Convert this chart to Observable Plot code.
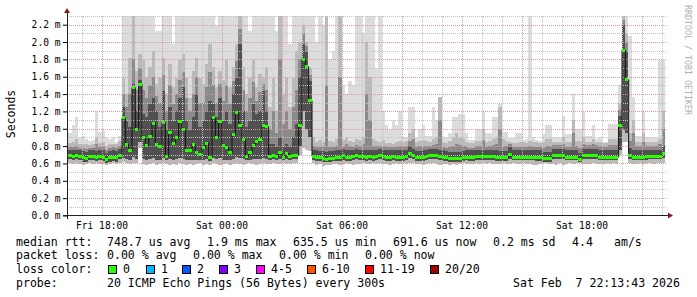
<!DOCTYPE html>
<html><head><meta charset="utf-8">
<script src="https://cdn.jsdelivr.net/npm/d3@7"></script>
<script src="https://cdn.jsdelivr.net/npm/@observablehq/plot@0.6"></script>
<style>
html,body{margin:0;padding:0;background:#fff;}
#wrap{width:697px;height:297px;overflow:hidden;background:#fff;}
#wrap svg{display:block;}
#wrap svg line, #wrap svg rect{shape-rendering:crispEdges;}
</style></head><body><div id="wrap"></div>
<script>
// RTT per 10-minute step (microseconds), starting Fri 16:20 UTC
const med = [
700,690,700,690,670,660,690,690,680,690,
680,650,670,680,670,700,1130,820,750,1480,
1000,1520,900,810,920,1070,830,800,1080,690,
960,840,900,1090,1000,760,760,830,730,710,
790,840,680,1130,910,1090,810,790,730,940,
1190,1040,880,690,730,810,860,880,1040,1030,
690,700,690,730,680,720,690,700,700,1040,
1810,1720,1330,690,680,670,660,650,660,660,
680,680,700,670,670,690,700,690,690,680,
690,680,690,700,690,680,680,690,680,680,
680,690,720,700,670,670,680,690,700,700,
700,690,680,670,660,660,660,660,670,680,
680,680,690,690,690,690,690,690,680,670,
670,670,710,680,680,680,680,680,680,680,
680,680,660,660,660,700,700,700,700,680,
680,680,680,650,700,700,700,700,700,680,
680,680,680,680,680,1040,1910,1570,700,680,
680,680,680,690,690,690,690,690,720];
const mn = [
600,590,600,590,580,590,600,590,600,590,
590,580,590,600,590,600,620,600,590,610,
600,780,590,580,590,600,580,590,600,590,
580,590,580,600,590,580,590,580,590,600,
580,590,580,600,590,580,590,600,580,590,
600,590,580,590,600,590,580,590,600,590,
590,600,590,590,600,590,590,600,600,700,
780,760,740,600,580,590,570,580,580,590,
590,580,590,600,590,580,590,590,600,590,
590,600,590,600,590,590,580,590,600,590,
600,590,600,600,590,590,580,590,600,600,
590,580,590,590,580,590,580,590,600,590,
590,590,600,590,600,590,600,590,590,590,
600,590,590,600,590,590,600,590,590,580,
580,590,600,600,590,590,580,600,580,590,
600,590,600,600,590,590,590,600,590,590,
590,600,590,600,590,700,850,850,600,590,
590,600,590,600,600,590,600,600,610];
const q1 = [
650,640,650,640,620,620,640,640,630,640,
630,610,620,630,620,650,660,650,640,680,
650,850,650,640,650,660,640,640,660,640,
650,640,650,660,650,640,640,640,640,640,
640,650,630,660,650,660,640,640,640,650,
680,660,650,640,640,650,650,650,660,650,
640,650,640,650,640,650,640,650,650,800,
1200,1000,900,640,630,630,620,620,620,630,
630,630,640,630,630,640,650,640,640,630,
640,630,640,650,640,630,630,640,630,630,
630,640,660,650,630,630,630,640,650,650,
650,640,630,630,620,620,620,620,630,640,
630,630,640,640,640,640,640,640,630,630,
630,630,650,640,640,640,640,640,640,640,
630,630,620,620,620,650,650,650,650,640,
640,640,640,620,650,650,650,650,650,640,
640,640,640,640,640,760,980,950,650,640,
640,640,640,640,650,650,650,650,660];
const q3 = [
760,750,760,750,740,730,750,750,740,750,
750,720,740,750,740,770,1250,1090,1020,1520,
1210,1560,1170,1130,1290,1360,1210,1020,1440,980,
1250,1090,1210,1360,1480,1090,980,1130,1400,1020,
1090,1210,1320,1290,1130,1360,1090,1210,1060,1400,
1590,1980,1210,1020,1090,1290,1170,1210,1440,1210,
830,830,790,900,790,830,790,900,1050,1600,
1980,1900,1550,760,750,740,740,730,740,740,
750,760,770,750,750,760,770,760,760,750,
760,750,760,770,760,750,750,760,750,750,
750,760,800,770,740,740,750,760,770,770,
770,760,750,740,730,730,730,730,740,750,
750,750,760,760,760,760,760,760,750,740,
740,740,790,750,750,750,750,750,750,750,
750,750,730,730,730,770,770,770,770,750,
750,750,750,720,770,770,770,770,770,750,
750,750,750,750,750,1150,2200,1900,780,750,
750,750,750,760,760,760,760,760,800];
const p75 = [
790,790,800,780,780,770,780,780,820,790,
790,760,780,790,780,800,1400,1250,1400,1800,
1450,1700,1450,1350,1500,1600,1380,1300,1620,1200,
1500,1280,1400,1560,1650,1350,1200,1400,1600,1300,
1300,1480,1650,1500,1300,1520,1320,1500,1280,1550,
1780,2150,1450,1200,1350,1540,1320,1420,1520,1450,
1000,1200,950,1800,1050,1200,1000,1250,1450,1800,
2100,1950,1620,800,790,790,790,1500,790,790,
800,1600,800,820,800,790,810,800,820,1400,
1100,800,800,800,800,790,790,790,790,800,
790,800,860,880,790,800,800,800,800,810,
820,1100,790,780,790,800,820,810,800,790,
780,780,800,800,870,790,800,810,820,1000,
800,800,820,790,790,790,790,790,800,790,
790,790,780,800,800,810,810,810,830,790,
790,950,800,780,820,810,810,820,810,800,
790,790,810,810,810,1220,2250,2000,860,950,
800,800,850,800,800,800,800,820,1000];
const p90 = [
840,850,880,820,830,820,810,820,900,840,
850,800,820,830,820,860,1590,1400,1820,2300,
1670,1860,1790,1590,1710,1900,1520,1590,1820,1400,
1750,1480,1590,1790,1860,1590,1360,1670,1820,1590,
1520,1750,1980,1710,1480,1670,1560,1790,1480,1710,
1980,2300,1710,1400,1590,1790,1480,1630,1590,1710,
1250,1590,1210,2300,1400,1590,1250,1590,1900,2000,
2200,2000,1700,900,850,870,850,2300,860,850,
880,2300,870,900,860,850,880,870,900,2000,
1600,880,860,850,870,840,840,830,850,860,
850,860,950,1000,850,860,870,860,850,880,
900,1370,850,840,860,900,950,900,880,850,
840,840,860,860,1000,850,860,880,900,1250,
880,860,850,840,840,850,850,840,860,850,
850,840,850,880,880,850,850,850,900,850,
850,1100,860,860,900,850,850,880,850,850,
840,840,880,880,880,1300,2300,2100,950,1100,
850,850,950,850,850,850,850,880,1200];
const mx = [
950,1040,1130,900,920,880,860,870,1210,960,
970,900,880,910,850,920,2400,2400,2400,2400,
2400,2400,2400,2400,2400,2400,2130,2130,2400,2400,
2300,1980,2400,2400,2400,2350,2400,2400,2400,2400,
2300,2400,2400,2400,2200,2400,2400,2400,2400,2400,
2400,2400,2400,2400,2130,2400,2400,2400,2400,2400,
2400,2400,2130,2400,2400,2400,1980,2400,2400,2400,
2400,2400,2400,2400,2000,2400,2200,2400,1800,1900,
2400,2400,1500,1400,1550,1500,2400,2400,2100,2400,
2400,2400,1700,2400,1200,1040,980,1100,1040,1210,
900,900,1250,1250,900,1000,1040,920,920,1250,
1100,1370,910,900,950,1130,1130,1170,1170,950,
870,870,1000,1000,1210,950,950,1130,1130,1290,
960,960,890,890,950,950,870,880,2400,900,
870,860,940,1040,1040,900,900,900,1150,940,
940,1400,1000,1000,1190,920,920,1040,880,900,
850,850,1060,1060,1060,1500,2400,2400,2070,1370,
920,920,1210,900,900,900,900,1790,1790];

const yTicks = [0,0.2,0.4,0.6,0.8,1.0,1.2,1.4,1.6,1.8,2.0,2.2];
const yMinor = [0.1,0.3,0.5,0.7,0.9,1.1,1.3,1.5,1.7,1.9,2.1,2.3];
const yMajor = [0.2,0.4,0.6,0.8,1.0,1.2,1.4,1.6,1.8,2.0,2.2];

const rttLabel = "median rtt:";
const rttStats = ["748.7 us avg","1.9 ms max","635.5 us min","691.6 us now","0.2 ms sd","4.4","am/s"];
const lossLabel = "packet loss:";
const lossStats = ["0.00 % avg","0.00 % max","0.00 % min","0.00 % now"];
const colorLabel = "loss color:";
const lossNames = ["0","1","2","3","4-5","6-10","11-19","20/20"];
const lossColors = ["#26ff00","#00b8ff","#0059ff","#7e00ff","#ff00ff","#ff5500","#ff0000","#a10000"];
const probeLabel = "probe:";
const probeText = "20 ICMP Echo Pings (56 Bytes) every 300s";
const stamp = "Sat Feb  7 22:13:43 2026";

const START = Date.UTC(2026,1,6,16,20), STEP = 600000;
const rows = med.map((m,i)=>({
  t1:new Date(START+i*STEP), t2:new Date(START+(i+1)*STEP),
  med:m/1000, mn:mn[i]/1000, q1:q1[i]/1000, q3:q3[i]/1000,
  p75:p75[i]/1000, p90:p90[i]/1000, mx:mx[i]/1000
}));
const xDom = [new Date(Date.UTC(2026,1,6,16,16,30)), new Date(Date.UTC(2026,1,7,22,13,30))];
const hours = d3.utcHour.range(new Date(Date.UTC(2026,1,6,17)), xDom[1]);
const hMajor = hours.filter(d=>d.getUTCHours()%3===0);
const hMinor = hours.filter(d=>d.getUTCHours()%3!==0);
const xTicks = hours.filter(d=>d.getUTCHours()%6===0);

const minorStyle = {stroke:"#c4c4c4", strokeDasharray:"1,1"};
const majorStyle = {stroke:"#dc9a9a", strokeDasharray:"1,1"};

const chart = Plot.plot({
  width:697, height:232, marginLeft:67, marginRight:31, marginTop:16, marginBottom:16.5,
  style:{fontFamily:"'DejaVu Sans Mono', monospace", fontSize:"9.6px", color:"#000", background:"transparent"},
  x:{type:"utc", domain:xDom, ticks:xTicks, tickFormat:d3.utcFormat("%a %H:%M"), tickSize:0, tickPadding:6, label:null},
  y:{domain:[0,2.3], ticks:yTicks, tickFormat:d=>d.toFixed(1)+" m", tickSize:4, tickPadding:3, label:null},
  marks:[
    Plot.rect(rows,{x1:"t1",x2:"t2",y1:"mn",y2:"mx",fill:"#dcdcdc",clip:true,inset:0}),
    Plot.rect(rows,{x1:"t1",x2:"t2",y1:"mn",y2:"p90",fill:"#bababa",clip:true,inset:0}),
    Plot.rect(rows,{x1:"t1",x2:"t2",y1:"q1",y2:"p75",fill:"#8a8a8a",clip:true,inset:0}),
    Plot.rect(rows,{x1:"t1",x2:"t2",y1:"q1",y2:"q3",fill:"#505050",clip:true,inset:0}),
    Plot.ruleY(yMinor, minorStyle),
    Plot.ruleY(yMajor, majorStyle),
    Plot.ruleX(hMinor, minorStyle),
    Plot.ruleX(hMajor, majorStyle),
    Plot.line(rows,{x:"t1",y:"med",curve:"step-after",stroke:"#111",strokeWidth:1}),
    Plot.ruleY(rows,{x1:"t1",x2:"t2",y:"med",stroke:"#26ff00",strokeWidth:3})
  ]
});

// axis lines, arrows, side labels
const sx = chart.scale("x"), sy = chart.scale("y");
const [xa, xb] = sx.range, [ya, yb] = sy.range;
const svg = d3.select(chart);
const g = svg.append("g");
g.append("line").attr("x1",xa-4).attr("x2",xb+2).attr("y1",ya).attr("y2",ya).attr("stroke","#222");
g.append("line").attr("x1",xa).attr("x2",xa).attr("y1",ya+3).attr("y2",yb-3).attr("stroke","#222");
g.append("path").attr("d",`M${xa-3},${yb-3}L${xa+3},${yb-3}L${xa},${yb-8}Z`).attr("fill","#7f1f1f");
g.append("path").attr("d",`M${xb+2},${ya-3}L${xb+2},${ya+3}L${xb+7},${ya}Z`).attr("fill","#7f1f1f");
g.append("text").attr("transform","translate(15,114) rotate(-90)").attr("text-anchor","middle")
  .style("font-size","11.5px").attr("fill","#000").text("Seconds");
g.append("text").attr("transform","translate(685,5) rotate(90)").attr("text-anchor","start")
  .style("font-size","8.3px").attr("fill","#b0b0b0").text("RRDTOOL / TOBI OETIKER");

document.getElementById("wrap").appendChild(chart);

// legend block below the chart
const leg = d3.create("svg").attr("width",697).attr("height",65)
  .style("font-family","'DejaVu Sans Mono', monospace").style("font-size","11.55px");
function txt(x,y,s){
  leg.append("text").attr("x",x).attr("y",y).attr("fill","#000")
    .attr("xml:space","preserve").style("white-space","pre").text(s);
}
const b = [13.7, 27.3, 41, 54.7];
txt(16,b[0],rttLabel);
[107,207,293,393,493,572,614].forEach((x,i)=>txt(x,b[0],rttStats[i]));
txt(16,b[1],lossLabel);
[107,193,279,365].forEach((x,i)=>txt(x,b[1],lossStats[i]));
txt(16,b[2],colorLabel);
const boxX = [108,146,182,219,256,307,365,430];
boxX.forEach((x,i)=>{
  leg.append("rect").attr("x",x+0.5).attr("y",33.5).attr("width",8).attr("height",8)
    .attr("fill",lossColors[i]).attr("stroke","#000").attr("stroke-width",1);
  txt(x+15,b[2],lossNames[i]);
});
txt(16,b[3],probeLabel);
txt(107,b[3],probeText);
txt(513,b[3],stamp);
document.getElementById("wrap").appendChild(leg.node());
</script></body></html>
